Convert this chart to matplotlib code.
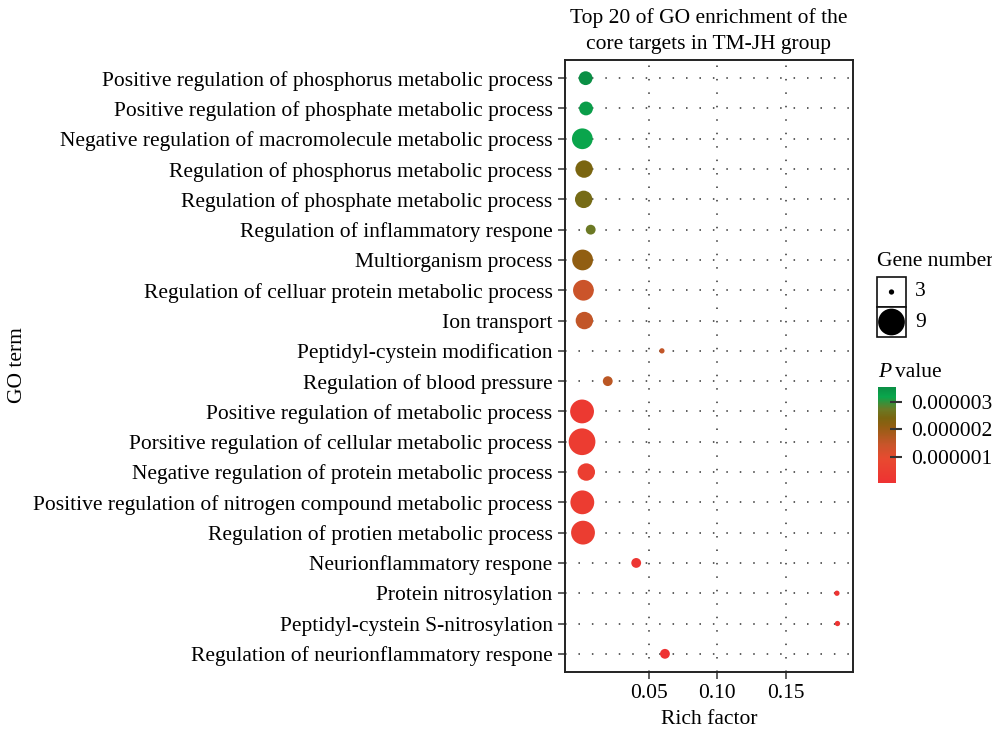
import numpy as np
import matplotlib
matplotlib.use("Agg")
import matplotlib.pyplot as plt
from matplotlib.colors import LinearSegmentedColormap, Normalize
from matplotlib.patches import Rectangle

plt.rcParams['font.family'] = ['Liberation Serif', 'DejaVu Serif']

terms = [
    "Positive regulation of phosphorus metabolic process",
    "Positive regulation of phosphate metabolic process",
    "Negative regulation of macromolecule metabolic process",
    "Regulation of phosphorus metabolic process",
    "Regulation of phosphate metabolic process",
    "Regulation of inflammatory respone",
    "Multiorganism process",
    "Regulation of celluar protein metabolic process",
    "Ion transport",
    "Peptidyl-cystein modification",
    "Regulation of blood pressure",
    "Positive regulation of metabolic process",
    "Porsitive regulation of cellular metabolic process",
    "Negative regulation of protein metabolic process",
    "Positive regulation of nitrogen compound metabolic process",
    "Regulation of protien metabolic process",
    "Neurionflammatory respone",
    "Protein nitrosylation",
    "Peptidyl-cystein S-nitrosylation",
    "Regulation of neurionflammatory respone",
]
rich_factor = [0.0042, 0.0045, 0.0018, 0.0031, 0.0028, 0.0079, 0.0020, 0.0026, 0.0033, 0.0597,
               0.0203, 0.0016, 0.0016, 0.0047, 0.0018, 0.0023, 0.0410, 0.1870, 0.1874, 0.0619]
gene_number = [5, 5, 7, 6, 6, 4, 7, 7, 6, 3,
               4, 8, 9, 6, 8, 8, 4, 3, 3, 4]
p_value = [3.53e-6, 3.3e-6, 3.2e-6, 2.4e-6, 2.5e-6, 2.7e-6, 2.1e-6, 1.4e-6, 1.5e-6, 1.5e-6,
           1.6e-6, 0.30e-6, 0.40e-6, 0.50e-6, 0.40e-6, 0.45e-6, 0.20e-6, 0.10e-6, 0.12e-6, 0.04e-6]
x_ticks = [0.05, 0.10, 0.15]
size_breaks = [3, 9]
cbar_ticks = [0.000001, 0.000002, 0.000003]

W, H = 992, 730
DPI = 100
FS = 15.5
fig = plt.figure(figsize=(W / DPI, H / DPI), dpi=DPI)


def fx(px):
    return px / W


def fy(py):
    return 1 - py / H


def size_pts(c):
    d_px = 5.3 + 16.9 * (np.sqrt(np.asarray(c, dtype=float)) - np.sqrt(3))
    return (d_px * 72 / DPI) ** 2


cmap = LinearSegmentedColormap.from_list("pv", [(0.0, "#EE3232"), (0.25, "#E84A30"),
                                                (0.4, "#C8552A"), (0.59, "#925E12"),
                                                (0.68, "#7A6510"), (0.77, "#6B7A25"),
                                                (0.9, "#0AA64C"), (1.0, "#0A8F45")])
norm = Normalize(vmin=min(p_value), vmax=max(p_value))

ax = fig.add_axes([fx(565), fy(672), fx(853) - fx(565), fy(60) - fy(672)])
ypos = np.arange(len(terms))
ax.set_xlim(-0.0108, 0.1987)
ax.set_ylim(len(terms) - 0.4, -0.6)

dot_style = dict(color="#333333", linewidth=1.1, linestyle=(0, (1.0, 7.8)), zorder=0)
for y in ypos:
    ax.axhline(y, **dot_style)
for xt in x_ticks:
    ax.axvline(xt, **dot_style)

ax.scatter(rich_factor, ypos, s=size_pts(gene_number), c=p_value, cmap=cmap, norm=norm,
           edgecolors="none", zorder=3)

ax.set_yticks(ypos)
ax.set_yticklabels(terms, fontsize=FS)
ax.set_xticks(x_ticks)
ax.set_xticklabels([f"{t:.2f}" for t in x_ticks], fontsize=FS)
ax.tick_params(axis="both", length=5, width=1.1, color="#333333", pad=4)
for sp in ax.spines.values():
    sp.set_linewidth(1.4)
    sp.set_color("#222222")
ax.set_xlabel("Rich factor", fontsize=FS, labelpad=5)
fig.text(fx(18), fy(365), "GO term", rotation=90, ha="center", va="center", fontsize=FS)
fig.text(fx(709), fy(18), "Top 20 of GO enrichment of the", ha="center", va="center",
         fontsize=FS)
fig.text(fx(709), fy(45), "core targets in TM-JH group", ha="center", va="center",
         fontsize=FS)

# Size legend
fig.text(fx(877), fy(262), "Gene number", fontsize=FS, ha="left", va="center")
lax = fig.add_axes([fx(877), fy(337), fx(906) - fx(877), fy(277) - fy(337)])
lax.set_xlim(0, 1)
lax.set_ylim(0, 2)
lax.axis("off")
for k, b in enumerate(size_breaks):
    yc = 1.5 - k
    lax.add_patch(Rectangle((0, yc - 0.5), 1, 1, facecolor="white", edgecolor="#111111",
                            linewidth=1.2, clip_on=False))
    lax.scatter([0.5], [yc], s=size_pts(b), color="black", edgecolors="none", zorder=3,
                clip_on=False)
    fig.text(fx(915), fy(291 + 31 * k), str(b), fontsize=FS, ha="left", va="center")

# Colorbar legend
fig.text(fx(878), fy(373), "P", fontsize=FS, ha="left", va="center", style="italic")
fig.text(fx(895), fy(373), "value", fontsize=FS, ha="left", va="center")
cax = fig.add_axes([fx(878), fy(483), fx(896) - fx(878), fy(387) - fy(483)])
sm = matplotlib.cm.ScalarMappable(norm=norm, cmap=cmap)
cb = fig.colorbar(sm, cax=cax, ticks=cbar_ticks)
cb.outline.set_visible(False)
cb.ax.set_yticklabels([f"{t:.6f}" for t in cbar_ticks], fontsize=FS)
cb.ax.tick_params(length=8, width=1.5, color="#333333", direction="inout", pad=7)

fig.savefig("out.png", dpi=DPI)
